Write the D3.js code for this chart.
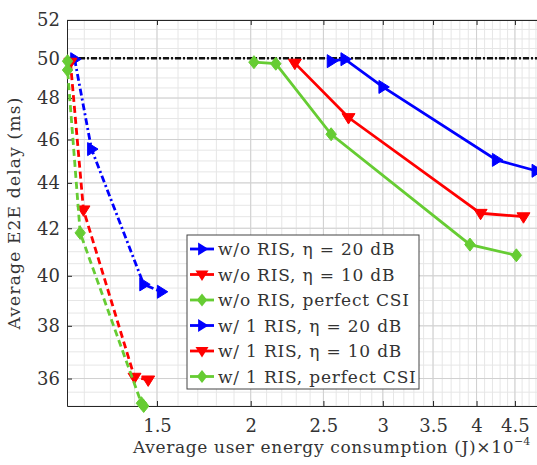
<!DOCTYPE html>
<html>
<head>
<meta charset="utf-8">
<script src="https://cdn.jsdelivr.net/npm/d3@7"></script>
<style>
  body { margin: 0; background: #fff; }
  text { font-family: "DejaVu Serif", "Liberation Serif", serif; fill: #333; }
</style>
</head>
<body>
<svg width="537" height="465"></svg>
<script>
// Energy (x10^-4 J) and delay (ms)
var woRis20X  = [2.56, 2.67, 3.00, 4.25, 4.80];
var woRis20Y  = [49.85, 49.95, 48.55, 45.05, 44.55];
var woRis10X  = [2.29, 2.70, 4.05, 4.62];
var woRis10Y  = [49.75, 47.05, 42.65, 42.50];
var woRisPX   = [2.02, 2.16, 2.56, 3.92, 4.52];
var woRisPY   = [49.80, 49.72, 46.25, 41.30, 40.85];
var wRis20X   = [1.165, 1.227, 1.44, 1.52];
var wRis20Y   = [49.95, 45.55, 39.65, 39.35];
var wRis10X   = [1.15, 1.197, 1.40, 1.46];
var wRis10Y   = [49.8, 42.8, 36.05, 35.95];
var wRisPX    = [1.14, 1.14, 1.185, 1.43, 1.44];
var wRisPY    = [49.85, 49.4, 41.8, 35.1, 35.0];
var deadlineY = 50;

var xTicks = [1.5, 2, 2.5, 3, 3.5, 4, 4.5];
var yTicks = [36, 38, 40, 42, 44, 46, 48, 50, 52];

var series = [
  { name: "w/o RIS, \u03b7 = 20 dB",   x: woRis20X, y: woRis20Y, color: "#0000ff", marker: "right", dash: null },
  { name: "w/o RIS, \u03b7 = 10 dB",   x: woRis10X, y: woRis10Y, color: "#ff0000", marker: "down",  dash: null },
  { name: "w/o RIS, perfect CSI",      x: woRisPX,  y: woRisPY,  color: "#66cc33", marker: "diamond", dash: null },
  { name: "w/ 1 RIS, \u03b7 = 20 dB",  x: wRis20X,  y: wRis20Y,  color: "#0000ff", marker: "right", dash: "7,3,2,3" },
  { name: "w/ 1 RIS, \u03b7 = 10 dB",  x: wRis10X,  y: wRis10Y,  color: "#ff0000", marker: "down",  dash: "7,4" },
  { name: "w/ 1 RIS, perfect CSI",     x: wRisPX,   y: wRisPY,   color: "#66cc33", marker: "diamond", dash: "7,4" }
];

var svg = d3.select("svg");
// plot box (right edge runs past the picture, as in the reference)
var pLeft = 67, pTop = 20, pBottom = 406, pRight = 540;

var x = d3.scaleLog().domain([1.138, 4.86]).range([pLeft, pRight]);
var y = d3.scaleLog().domain([35, 52]).range([pBottom, pTop]);

// Grid
var grid = svg.append("g");
var minorX = d3.range(12, 49).map((d) => d / 10);
var minorY = d3.range(35, 52.01, 0.5);
grid.selectAll(".mx").data(minorX).enter().append("line")
  .attr("x1", (d) => x(d)).attr("x2", (d) => x(d))
  .attr("y1", pTop).attr("y2", pBottom)
  .attr("stroke", "#e6e6e6").attr("stroke-width", 1);
grid.selectAll(".my").data(minorY).enter().append("line")
  .attr("x1", pLeft).attr("x2", pRight)
  .attr("y1", (d) => y(d)).attr("y2", (d) => y(d))
  .attr("stroke", "#e6e6e6").attr("stroke-width", 1);
grid.selectAll(".gx").data(xTicks).enter().append("line")
  .attr("x1", (d) => x(d)).attr("x2", (d) => x(d))
  .attr("y1", pTop).attr("y2", pBottom)
  .attr("stroke", "#d0d0d0").attr("stroke-width", 1);
grid.selectAll(".gy").data(yTicks).enter().append("line")
  .attr("x1", pLeft).attr("x2", pRight)
  .attr("y1", (d) => y(d)).attr("y2", (d) => y(d))
  .attr("stroke", "#d0d0d0").attr("stroke-width", 1);

// Axes (ticks inside, box on)
var xAxis = svg.append("g").attr("transform", "translate(0," + pBottom + ")")
  .call(d3.axisBottom(x).tickValues(xTicks).tickFormat(d3.format("")).tickSizeInner(-5).tickSizeOuter(0).tickPadding(13));
var xTop = svg.append("g").attr("transform", "translate(0," + pTop + ")")
  .call(d3.axisTop(x).tickValues(xTicks).tickFormat("").tickSizeInner(-5).tickSizeOuter(0));
var yAxis = svg.append("g").attr("transform", "translate(" + pLeft + ",0)")
  .call(d3.axisLeft(y).tickValues(yTicks).tickFormat(d3.format("d")).tickSizeInner(-5).tickSizeOuter(0).tickPadding(7));
[xAxis, xTop, yAxis].forEach((g) => {
  g.selectAll("path").attr("stroke", "#262626");
  g.selectAll("line").attr("stroke", "#262626");
  g.selectAll("text").style("font-family", "DejaVu Serif").style("font-size", "18px").attr("fill", "#333");
});

// Deadline line
svg.append("line")
  .attr("x1", pLeft).attr("x2", pRight)
  .attr("y1", y(deadlineY)).attr("y2", y(deadlineY))
  .attr("stroke", "#111").attr("stroke-width", 2.4)
  .attr("stroke-dasharray", "6,2,2,2");

// Markers
function markerPath(type, s) {
  if (type === "right") return "M" + (-s * 0.6) + "," + (-s) + "L" + s + ",0L" + (-s * 0.6) + "," + s + "Z";
  if (type === "down") return "M" + (-s) + "," + (-s * 0.6) + "L" + s + "," + (-s * 0.6) + "L0," + s + "Z";
  return "M0," + (-s) + "L" + (s * 0.8) + ",0L0," + s + "L" + (-s * 0.8) + ",0Z";
}

var line = d3.line().x((d) => x(d[0])).y((d) => y(d[1]));

series.forEach((s) => {
  var pts = s.x.map((v, i) => [v, s.y[i]]);
  var g = svg.append("g");
  g.append("path")
    .attr("d", line(pts))
    .attr("fill", "none")
    .attr("stroke", s.color)
    .attr("stroke-width", 2.8)
    .attr("stroke-dasharray", s.dash);
  g.selectAll("path.m").data(pts).enter().append("path")
    .attr("class", "m")
    .attr("transform", (d) => "translate(" + x(d[0]) + "," + y(d[1]) + ")")
    .attr("d", markerPath(s.marker, 6.5))
    .attr("fill", s.color).attr("stroke", s.color).attr("stroke-width", 1);
});

// Legend
var lg = svg.append("g");
lg.append("rect")
  .attr("x", 187).attr("y", 235).attr("width", 232).attr("height", 154)
  .attr("fill", "#fff").attr("stroke", "#444").attr("stroke-width", 1);
series.forEach((s, i) => {
  var yy = 249 + i * 25.5;
  lg.append("line").attr("x1", 190).attr("x2", 214).attr("y1", yy).attr("y2", yy)
    .attr("stroke", s.color).attr("stroke-width", 2.8);
  lg.append("path").attr("transform", "translate(202," + yy + ")")
    .attr("d", markerPath(s.marker, 6.5)).attr("fill", s.color);
  lg.append("text").attr("x", 218).attr("y", yy + 6)
    .style("font-size", "17px").style("letter-spacing", "0.8px").text(s.name);
});

// Axis labels
svg.append("text")
  .attr("transform", "translate(20,213) rotate(-90)")
  .attr("text-anchor", "middle")
  .style("font-size", "17px").style("letter-spacing", "1.2px")
  .text("Average E2E delay (ms)");

var xl = svg.append("text").attr("x", 133).attr("y", 453)
  .style("font-size", "17px").style("letter-spacing", "0.65px");
xl.append("tspan").text("Average user energy consumption (J)\u00d710");
xl.append("tspan").attr("dy", -8).style("font-size", "11px").style("letter-spacing", "0px").text("\u22124");
</script>
</body>
</html>
